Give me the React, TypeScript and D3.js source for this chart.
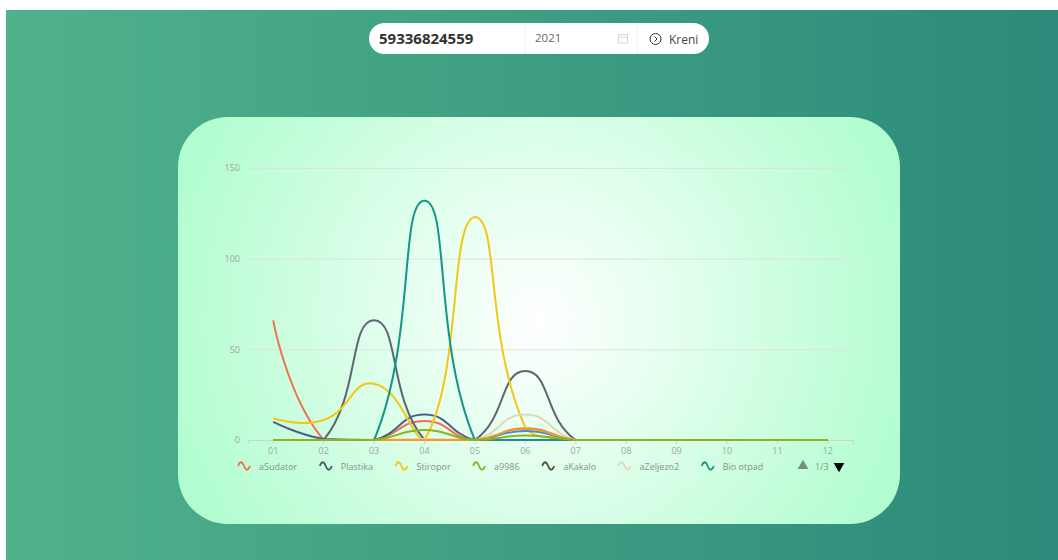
import { useEffect, useRef } from 'react';
import * as d3 from 'd3';

const months = ['01', '02', '03', '04', '05', '06', '07', '08', '09', '10', '11', '12'];
const yTicks = [0, 50, 100, 150];

const aSudator = [66, 0, 0, 10.5, 0, 6.5, 0, 0, 0, 0, 0, 0];
const plastika = [10, 0.5, 0, 14, 0, 0, 0, 0, 0, 0, 0, 0];
const stiropor = [12, 11, 31, 0, 123, 7, 0, 0, 0, 0, 0, 0];
const a9986 = [0, 0, 0, 5.5, 0, 2.5, 0, 0, 0, 0, 0, 0];
const aKakalo = [0, 0, 0, 0, 0, 0, 0, 0, 0, 0, 0, 0];
const aZeljezo2 = [0, 0, 0, 0.5, 0, 14, 0, 0, 0, 0, 0, 0];
const bioOtpad = [0, 0, 0, 132, 0, 0, 0, 0, 0, 0, 0, 0];
// series from the other legend pages, names not visible in the picture
const hiddenGrey = [0, 0, 66, 0, 0, 38, 0, 0, 0, 0, 0, 0];
const hiddenBlue = [0, 0, 0, 0, 0, 5, 0, 0, 0, 0, 0, 0];
const hiddenOrange = [0, 0, 0, 0, 0, 6, 0, 0, 0, 0, 0, 0];

const legendNames = ['aSudator', 'Plastika', 'Stiropor', 'a9986', 'aKakalo', 'aZeljezo2', 'Bio otpad'];
const legendColors = ['#f0704f', '#4f5b68', '#f5c518', '#8fb31c', '#5a4d2c', '#e0d8b4', '#14958a'];

const W = 1058;
const H = 560;
const CHART_FONT = '"Open Sans", sans-serif';
const BAR_FONT = '"Open Sans", sans-serif';

// smooth line: control points along prev->next, clamped to the bounding box of the series
function smoothPath(pts: [number, number][], smooth = 0.5) {
  const path = d3.path();
  const minX = d3.min(pts, p => p[0])!;
  const maxX = d3.max(pts, p => p[0])!;
  const minY = d3.min(pts, p => p[1])!;
  const maxY = d3.max(pts, p => p[1])!;
  const cx = (v: number) => Math.min(maxX, Math.max(minX, v));
  const cy = (v: number) => Math.min(maxY, Math.max(minY, v));
  let cp0 = pts[0];
  path.moveTo(pts[0][0], pts[0][1]);
  for (let i = 1; i < pts.length; i++) {
    const p = pts[i];
    const prev = pts[i - 1];
    const next = pts[i + 1];
    let cp1: [number, number] = p;
    let vx = 0;
    let vy = 0;
    let ratio = 0.5;
    if (next) {
      vx = next[0] - prev[0];
      vy = next[1] - prev[1];
      const lenPrev = Math.hypot(p[0] - prev[0], p[1] - prev[1]);
      const lenNext = Math.hypot(next[0] - p[0], next[1] - p[1]);
      ratio = lenNext / (lenNext + lenPrev);
      cp1 = [p[0] - vx * smooth * (1 - ratio), p[1] - vy * smooth * (1 - ratio)];
    }
    path.bezierCurveTo(cx(cp0[0]), cy(cp0[1]), cx(cp1[0]), cy(cp1[1]), p[0], p[1]);
    cp0 = [p[0] + vx * smooth * ratio, p[1] + vy * smooth * ratio];
  }
  return path.toString();
}

export default function App() {
  const ref = useRef<SVGSVGElement>(null);

  useEffect(() => {
    const svg = d3.select(ref.current);
    svg.selectAll('*').remove();

    const defs = svg.append('defs');
    const bg = defs.append('linearGradient').attr('id', 'pageBg');
    bg.append('stop').attr('offset', '0%').attr('stop-color', '#4fb28b');
    bg.append('stop').attr('offset', '100%').attr('stop-color', '#2c8a7a');
    const glow = defs.append('radialGradient').attr('id', 'cardBg')
      .attr('gradientUnits', 'userSpaceOnUse')
      .attr('cx', 539).attr('cy', 320).attr('r', 380);
    glow.append('stop').attr('offset', '0%').attr('stop-color', '#ffffff');
    glow.append('stop').attr('offset', '100%').attr('stop-color', '#b2fdd0');

    svg.append('rect').attr('x', 6).attr('y', 10).attr('width', W - 6).attr('height', H - 10).attr('fill', 'url(#pageBg)');
    svg.append('rect').attr('x', 178).attr('y', 117).attr('width', 722).attr('height', 407).attr('rx', 50)
      .attr('fill', 'url(#cardBg)');

    // search bar
    const bar = svg.append('g');
    bar.append('rect').attr('x', 369).attr('y', 23).attr('width', 340).attr('height', 31).attr('rx', 15.5).attr('fill', '#fff');
    [525, 637].forEach(x => {
      bar.append('line').attr('x1', x).attr('x2', x).attr('y1', 23).attr('y2', 54).attr('stroke', '#f1f1f1');
    });
    bar.append('text').attr('x', 379).attr('y', 44).attr('font-family', BAR_FONT).attr('font-weight', 700)
      .attr('font-size', 15).attr('fill', '#333').text('59336824559');
    bar.append('text').attr('x', 535).attr('y', 42).attr('font-family', BAR_FONT).attr('font-size', 11.5)
      .attr('fill', '#666').text('2021');
    const cal = bar.append('g').attr('fill', 'none').attr('stroke', '#d4d4d4');
    cal.append('rect').attr('x', 618.5).attr('y', 34.5).attr('width', 9).attr('height', 8.5);
    cal.append('line').attr('x1', 618.5).attr('x2', 627.5).attr('y1', 37).attr('y2', 37);
    const go = bar.append('g').attr('fill', 'none').attr('stroke', '#333');
    go.append('circle').attr('cx', 655.5).attr('cy', 39).attr('r', 5.5);
    go.append('path').attr('d', 'M654.5 36.5 L657 39 L654.5 41.5');
    bar.append('text').attr('x', 669).attr('y', 43.5).attr('font-family', BAR_FONT).attr('font-size', 12)
      .attr('fill', '#444').text('Kreni');

    // chart
    const x = d3.scaleBand<string>().domain(months).range([248, 853]);
    const y = d3.scaleLinear().domain([0, 150]).range([440, 168]);
    const px = (d: string) => x(d)! + x.bandwidth() / 2;

    const yAxis = svg.append('g').attr('transform', 'translate(248,0)')
      .call(d3.axisLeft(y).tickValues(yTicks).tickSize(-605).tickPadding(8));
    yAxis.select('.domain').remove();
    yAxis.selectAll('line').attr('stroke', '#dde3dc');
    yAxis.selectAll('text').attr('fill', '#9ca89f').attr('font-size', 9).attr('font-family', CHART_FONT);

    const xAxis = svg.append('g').attr('transform', 'translate(0,440)')
      .call(d3.axisBottom(x).tickSize(4).tickPadding(4));
    xAxis.select('.domain').attr('stroke', '#c9d6cc');
    xAxis.selectAll('line').attr('stroke', '#c9d6cc');
    xAxis.selectAll('text').attr('fill', '#9ca89f').attr('font-size', 9).attr('font-family', CHART_FONT);

    const drawn: [number[], string][] = [
      [aSudator, legendColors[0]],
      [plastika, '#555f85'],
      [hiddenGrey, '#5f6672'],
      [stiropor, legendColors[2]],
      [aKakalo, legendColors[4]],
      [aZeljezo2, legendColors[5]],
      [bioOtpad, legendColors[6]],
      [hiddenBlue, '#3f8fd8'],
      [hiddenOrange, '#f59a23'],
      [a9986, legendColors[3]],
    ];
    drawn.forEach(([vals, color]) => {
      const pts = vals.map((v, i) => [px(months[i]), y(v)] as [number, number]);
      svg.append('path').attr('d', smoothPath(pts)).attr('fill', 'none')
        .attr('stroke', color).attr('stroke-width', 2);
    });

    // legend
    const legendY = 466;
    let lx = 238;
    legendNames.forEach((name, i) => {
      const g = svg.append('g').attr('transform', `translate(${lx},${legendY})`);
      g.append('path').attr('d', 'M0 0 C2 -5,4 -5,6 0 S10 5,12 0').attr('fill', 'none')
        .attr('stroke', legendColors[i]).attr('stroke-width', 1.8);
      const t = g.append('text').attr('x', 21).attr('y', 3.5).attr('font-family', CHART_FONT)
        .attr('font-size', 9).attr('fill', '#85938a').text(name);
      lx += 21 + t.node()!.getComputedTextLength() + 22.5;
    });
    svg.append('path').attr('d', d3.symbol(d3.symbolTriangle, 50)()!).attr('transform', `translate(803,${legendY})`).attr('fill', '#6f8f7f');
    svg.append('text').attr('x', 815).attr('y', legendY + 3.5).attr('font-family', CHART_FONT).attr('font-size', 9)
      .attr('fill', '#85938a').text('1/3');
    svg.append('path').attr('d', d3.symbol(d3.symbolTriangle, 50)()!).attr('transform', `translate(839,${legendY}) rotate(180)`).attr('fill', '#000');
  }, []);

  return <svg ref={ref} width={W} height={H} style={{ position: 'fixed', left: 0, top: 0 }} />;
}
